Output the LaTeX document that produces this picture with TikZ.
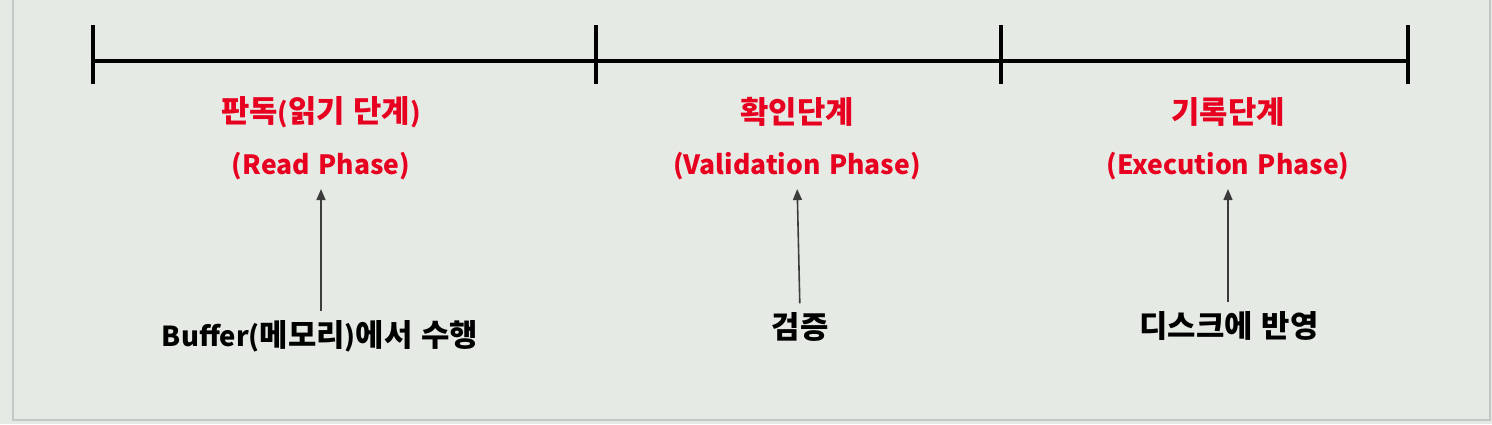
\documentclass[tikz,border=0pt]{standalone}
\usepackage{fontspec}
\setmainfont{Noto Sans CJK KR}
\usetikzlibrary{arrows.meta}
\definecolor{bg}{RGB}{229,235,228}
\definecolor{frame}{RGB}{196,200,196}
\definecolor{phred}{RGB}{232,0,32}
\definecolor{arrgray}{RGB}{60,60,60}
\newcommand\hk[1]{{\fontsize{30.8}{33}\selectfont #1}}
\newcommand\wsp{\hspace{0.32em}}
\tikzset{
  phase/.style={text=phred,font=\fontsize{26.5}{30}\selectfont\bfseries,inner sep=0pt,anchor=center},
  note/.style={text=black,font=\fontsize{27.5}{30}\selectfont\bfseries,inner sep=0pt,anchor=center},
  tl/.style={line width=4pt,black},
  up/.style={arrgray,line width=1.6pt,-{Triangle[length=11pt,width=9pt]},shorten >=9pt,shorten <=9pt}
}
\begin{document}
\begin{tikzpicture}[x=1pt,y=-1pt]
\useasboundingbox (0,0) rectangle (1492,424);
\fill[bg] (0,0) rectangle (1492,424);
\draw[frame,line width=1.5pt] (13,-2) -- (13,420) -- (1490,420) -- (1490,-2);
% timeline
\coordinate (t0) at (93,61);
\coordinate (t1) at (596,61);
\coordinate (t2) at (1001,61);
\coordinate (t3) at (1408,61);
\draw[tl] (t0) -- (t3);
\foreach \t in {t0,t1,t2,t3}{\draw[tl] ([yshift=-23pt]\t) -- ([yshift=36pt]\t);}
% labels
\node[phase] (k1) at (321,112) {\hk{판독}(\hk{읽기}\wsp\hk{단계})};
\node[phase] (e1) at (321,166) {(Read\wsp Phase)};
\node[phase] (k2) at (797,112) {\hk{확인단계}};
\node[phase] (e2) at (797,166) {(Validation\wsp Phase)};
\node[phase] (k3) at (1228,112) {\hk{기록단계}};
\node[phase] (e3) at (1228,166) {(Execution\wsp Phase)};
\node[note] (n1) at (320,336) {Buffer(\hk{메모리})\hk{에서}\wsp\hk{수행}};
\node[note] (n2) at (800,327) {\hk{검증}};
\node[note] (n3) at (1229,326) {\hk{디스크에}\wsp\hk{반영}};
\draw[up] (n1.north -| e1) -- (e1.south);
\draw[up] (n2.north) -- (e2.south);
\draw[up] (n3.north -| e3) -- (e3.south);
\end{tikzpicture}
\end{document}
